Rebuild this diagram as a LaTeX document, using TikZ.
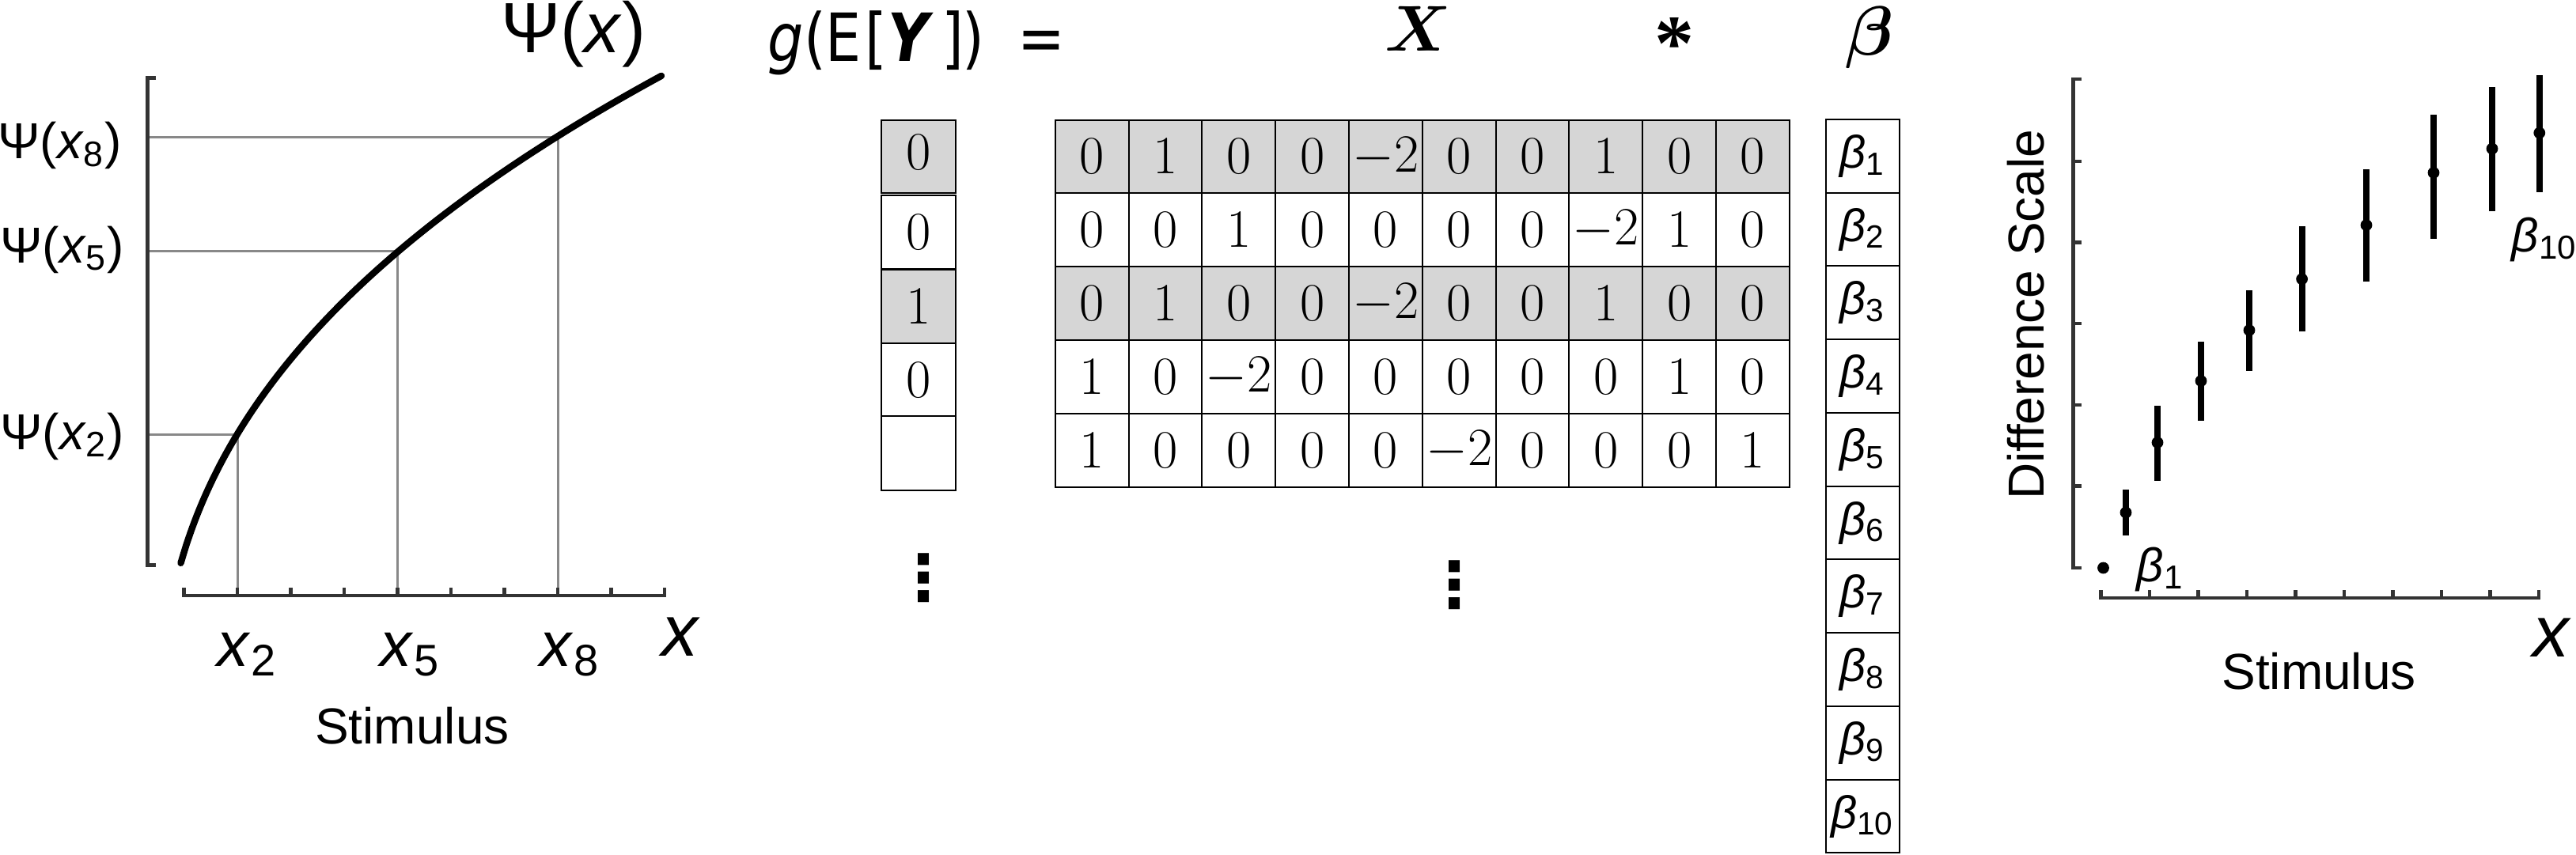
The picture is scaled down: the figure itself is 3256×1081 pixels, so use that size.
\RequirePackage{fix-cm}
\documentclass[tikz,border=0pt]{standalone}
\usepackage{bm}
\usepackage{fontspec}
\setmainfont{Liberation Sans}
\newfontfamily\dejavu{DejaVu Sans}
\newfontfamily\dejavunarrow[FakeStretch=0.85]{DejaVu Sans}
\newfontfamily\libserif{Liberation Serif}
\definecolor{axisgray}{HTML}{333333}
\definecolor{guidegray}{HTML}{888888}
\definecolor{cellgray}{gray}{0.84}
\newcommand\fsz[1]{\fontsize{#1}{#1}\selectfont}
\tikzset{
  axisline/.style={line width=1.18pt, draw=axisgray},
  guide/.style={line width=0.75pt, draw=guidegray},
  curve/.style={line width=2.1pt, draw=black, line cap=round},
  errbar/.style={line width=2pt, draw=black},
  pt/.style={circle, fill=black, inner sep=0pt, minimum size=3.7pt},
  txt/.style={inner sep=0pt},
  cell/.style={draw=black, line width=0.5pt, inner sep=0pt, font=\fsz{17pt}},
  bcell/.style={draw=black, line width=0.5pt, inner sep=0pt, font=\fsz{14.5pt},
    minimum width=23.27pt, minimum height=23.18pt},
}
\begin{document}
\begin{tikzpicture}[x=0.25pt, y=-0.25pt]
\useasboundingbox (0,0) rectangle (3256,1081);
\fill[white] (0,0) rectangle (3256,1081);

% ---------------- left plot ----------------
\draw[guide] (188,173.6) -- (705,173.6) -- (705,753);
\draw[guide] (188,317.6) -- (502.5,317.6) -- (502.5,753);
\draw[guide] (188,549) -- (300,549) -- (300,753);
\draw[axisline] (197,98.5) -- (186.5,98.5) -- (186.5,714.5) -- (197,714.5);
\draw[axisline] (232.5,743) -- (232.5,753) -- (840,753) -- (840,743);
\foreach \k in {1,...,8} \draw[axisline] ({232.5+67.5*\k},753) -- ({232.5+67.5*\k},743);
\draw[curve] plot[domain=228.5:836, samples=90, smooth] (\x, {962-65.5*pow(\x-200,0.4)});

\node[txt, anchor=base west, font=\fsz{22.5pt}] (psititle) at (633,66.6) {Ψ(\textit{x})};
\node[txt, anchor=base east, font=\fsz{16pt}] (psi8) at (155,200.7) {Ψ(\textit{x}\textsubscript{8})};
\node[txt, anchor=base east, font=\fsz{16pt}] (psi5) at (158,332) {Ψ(\textit{x}\textsubscript{5})};
\node[txt, anchor=base east, font=\fsz{16pt}] (psi2) at (158,568) {Ψ(\textit{x}\textsubscript{2})};
\node[txt, anchor=base west, font=\fsz{20pt}] (lx2) at (274,842) {\textit{x}\textsubscript{2}};
\node[txt, anchor=base west, font=\fsz{20pt}] (lx5) at (480,842) {\textit{x}\textsubscript{5}};
\node[txt, anchor=base west, font=\fsz{20pt}] (lx8) at (682,842) {\textit{x}\textsubscript{8}};
\node[txt, anchor=base west, font=\fsz{23pt}] (lX1) at (836,829) {\textit{x}};
\node[txt, anchor=base, font=\fsz{16pt}] (stim1) at (521,940) {Stimulus};

% ---------------- equation ----------------
\node[txt, anchor=base west, font=\dejavunarrow\fsz{21pt}] (lhs) at (970,78)
  {{\itshape g}(E\kern1pt[\kern0.5pt{\bfseries\itshape Y}\kern4pt]\kern-0.5pt)\kern10.5pt=};
\node[txt, anchor=base, font=\fsz{20.5pt}] (Xlbl) at (1793,65) {$\bm{X}$};
\node[txt, anchor=base, font=\libserif\bfseries\fsz{25pt}] (ast) at (2116,88) {*};
\node[txt, anchor=base, font=\fsz{22pt}] (betalbl) at (2363,69) {$\bm{\beta}$};

% response vector
\node[cell, fill=cellgray, minimum width=23.45pt, minimum height=23.1pt] (y-1) at (1160.6,197.9) {\raisebox{2.5pt}{$0$}};
\node[cell, minimum width=23.45pt, minimum height=23.2pt] (y-2) at (1160.6,293.8) {$0$};
\node[cell, fill=cellgray, minimum width=23.45pt, minimum height=23.3pt] (y-3) at (1160.6,387.3) {$1$};
\node[cell, minimum width=23.45pt, minimum height=23.1pt] (y-4) at (1160.6,480.2) {$0$};
\node[cell, minimum width=23.45pt, minimum height=23.3pt] (y-5) at (1160.6,573.0) {};

% design matrix
\foreach \r/\row/\fl in {
  1/{0,1,0,0,-2,0,0,1,0,0}/cellgray,
  2/{0,0,1,0,0,0,0,-2,1,0}/white,
  3/{0,1,0,0,-2,0,0,1,0,0}/cellgray,
  4/{1,0,-2,0,0,0,0,0,1,0}/white,
  5/{1,0,0,0,0,-2,0,0,0,1}/white}{
  \foreach \v [count=\c] in \row {
    \node[cell, fill=\fl, minimum width=23.2pt, minimum height=23.22pt]
      (m-\r-\c) at ({1333.8+92.8*(\c-0.5)}, {151.5+92.9*(\r-0.5)}) {$\v$};
  }
}

% parameter vector
\foreach \k in {1,...,10}
  \node[bcell] (b-\k) at (2354.25, {151+92.74*(\k-0.5)}) {\textit{β}\textsubscript{\k}};

% vertical dots
\node[txt, font=\dejavu\bfseries\fsz{20pt}] (vd1) at (1167,731) {⋮};
\node[txt, font=\dejavu\bfseries\fsz{20pt}] (vd2) at (1838,739.4) {⋮};

% ---------------- right plot ----------------
\draw[axisline] (2631,100) -- (2620.7,100) -- (2620.7,718) -- (2631,718);
\foreach \t in {204,306.6,409,512,614.6} \draw[axisline] (2620.7,\t) -- (2631,\t);
\draw[axisline] (2655.5,746) -- (2655.5,756) -- (3209,756) -- (3209,746);
\foreach \k in {1,...,8} \draw[axisline] ({2655.5+61.5*\k},756) -- ({2655.5+61.5*\k},746);

\node[pt] (p1) at (2658.5,718) {};
\foreach \i/\px/\py/\lo/\hi in {
  2/2687/648/619/677,
  3/2727/559.5/513/607.7,
  4/2782/481.6/432/532,
  5/2843/417.5/366.6/468.5,
  6/2909.6/352.8/286/419,
  7/2991/284.6/214/356,
  8/3076/218.4/144.7/301.8,
  9/3150/188/110/267,
  10/3209.8/168/95/242.5}{
  \coordinate (lo-\i) at (\px,\hi);
  \coordinate (hi-\i) at (\px,\lo);
  \draw[errbar] (lo-\i) -- (hi-\i);
  \node[pt] (p\i) at (\px,\py) {};
}

\node[txt, anchor=base west, font=\fsz{15pt}] (lb1) at (2700,735) {\textit{β}\textsubscript{1}};
\node[txt, anchor=base west, font=\fsz{15pt}] (lb10) at (3174,318) {\textit{β}\textsubscript{10}};
\node[txt, anchor=base west, font=\fsz{23pt}] (lX2) at (3201,830) {\textit{x}};
\node[txt, anchor=base, font=\fsz{16pt}] (stim2) at (2931,871.6) {Stimulus};
\node[txt, anchor=base, rotate=90, font=\fsz{16pt}] (dscale) at (2583.6,397.75) {Difference Scale};
\end{tikzpicture}
\end{document}
